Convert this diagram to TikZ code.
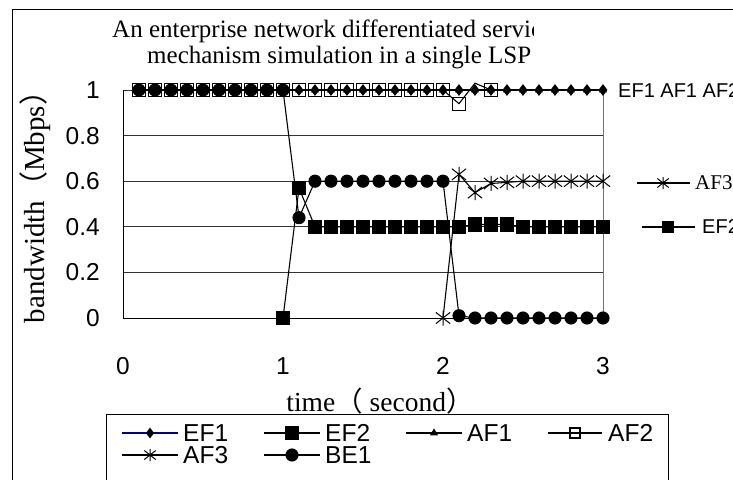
\documentclass[tikz,border=0pt]{standalone}
\usepackage{fontspec}
\setmainfont{Liberation Serif}
\setsansfont{Liberation Sans}
\newfontfamily\cjk{Noto Sans CJK SC}
\usetikzlibrary{plotmarks}

\definecolor{efnavy}{RGB}{0,0,128}
\newcommand{\chartsize}{\fontsize{24.5}{26}\selectfont}

% star with a vertical bar and a cross, used for AF3
\pgfdeclareplotmark{afstar}{%
  \pgfpathmoveto{\pgfqpoint{0pt}{\pgfplotmarksize}}%
  \pgfpathlineto{\pgfqpoint{0pt}{-\pgfplotmarksize}}%
  \pgfpathmoveto{\pgfqpoint{-0.95\pgfplotmarksize}{0.75\pgfplotmarksize}}%
  \pgfpathlineto{\pgfqpoint{0.95\pgfplotmarksize}{-0.75\pgfplotmarksize}}%
  \pgfpathmoveto{\pgfqpoint{-0.95\pgfplotmarksize}{-0.75\pgfplotmarksize}}%
  \pgfpathlineto{\pgfqpoint{0.95\pgfplotmarksize}{0.75\pgfplotmarksize}}%
  \pgfusepathqstroke}

\begin{document}
\begin{tikzpicture}[
    x=1pt, y=-1pt,
    gridline/.style={draw=black!80, line width=0.9pt},
    axisline/.style={draw=black, line width=1pt},
    series/.style={draw=black, line width=1.1pt},
    ticklabel/.style={font=\sffamily\chartsize, inner sep=0pt},
    titletext/.style={font=\rmfamily\fontsize{25}{26}\selectfont, inner sep=0pt},
    legtext/.style={font=\sffamily\chartsize, inner sep=0pt, anchor=west},
    sidetext/.style={font=\sffamily\fontsize{20}{21}\selectfont, inner sep=0pt, anchor=west},
    markEFone/.style={mark=diamond*, mark size=5pt, mark options={fill=black, draw=black}},
    markEFtwo/.style={mark=square*, mark size=6.5pt, mark options={fill=black, draw=black}},
    markAFone/.style={mark=triangle*, mark size=3.5pt, mark options={fill=black}},
    markAFtwo/.style={mark=square, mark size=6.5pt, mark options={line width=1.2pt}},
    markAFthree/.style={mark=afstar, mark size=7.5pt, mark options={line width=1pt}},
    markBEone/.style={mark=*, mark size=6pt, mark options={fill=black}}
]
\useasboundingbox (0,0) rectangle (733,479);

% === CHART FRAME ===
\draw[axisline] (12,490) -- (12,9) -- (745,9);

% === TITLE ===
\begin{scope}
  \clip (0,0) rectangle (533,479);
  \node[titletext, anchor=base west] (titleA) at (112,37) {An enterprise network differentiated servic};
\end{scope}
\node[titletext, anchor=base west] (titleB) at (147,63) {mechanism simulation in a single LSP};

% === PLOT AREA ===
\begin{scope}[shift={(123,318)}, x=160pt, y=228pt]
  \foreach \gy in {0.2,0.4,0.6,0.8,1}
    \draw[gridline] (0,\gy) -- (3,\gy);
  \draw[gridline, draw=black!55] (3,0) -- (3,1);
  \draw[axisline] (0,1) -- (0,0) -- (3,0);

  % tick labels
  \foreach \gy in {0,0.2,0.4,0.6,0.8,1}
    \node[ticklabel, anchor=east, xshift=-23pt] (ytick\gy) at (0,\gy) {\gy};
  \foreach \gx in {0,1,2,3}
    \node[ticklabel, yshift=-48pt] (xtick\gx) at (\gx,0) {\gx};

  % EF1
  \draw[series, draw=efnavy, markEFone] plot[domain=0.1:3, samples=30] (\x,1);
  % EF2
  \draw[series, markEFtwo] plot coordinates {(1,0) (1.1,0.57) (1.2,0.4) (1.3,0.4) (1.4,0.4)
    (1.5,0.4) (1.6,0.4) (1.7,0.4) (1.8,0.4) (1.9,0.4) (2,0.4) (2.1,0.4) (2.2,0.41) (2.3,0.41)
    (2.4,0.41) (2.5,0.4) (2.6,0.4) (2.7,0.4) (2.8,0.4) (2.9,0.4) (3,0.4)};
  % AF1
  \draw[series, markAFone] plot[domain=0.1:3, samples=30] (\x,1);
  % AF2
  \draw[series, markAFtwo, mark indices={1,...,21,23,...,30}] plot coordinates {(0.1,1) (0.2,1)
    (0.3,1) (0.4,1) (0.5,1) (0.6,1) (0.7,1) (0.8,1) (0.9,1) (1,1) (1.1,1) (1.2,1) (1.3,1)
    (1.4,1) (1.5,1) (1.6,1) (1.7,1) (1.8,1) (1.9,1) (2,1) (2.1,0.94) (2.2,1.03) (2.3,1)
    (2.4,1) (2.5,1) (2.6,1) (2.7,1) (2.8,1) (2.9,1) (3,1)};
  % AF3
  \draw[series, markAFthree] plot coordinates {(2,0) (2.1,0.63) (2.2,0.55) (2.3,0.59)
    (2.4,0.595) (2.5,0.6) (2.6,0.6) (2.7,0.6) (2.8,0.6) (2.9,0.6) (3,0.6)};
  % BE1
  \draw[series, markBEone] plot coordinates {(0.1,1) (0.2,1) (0.3,1) (0.4,1) (0.5,1) (0.6,1)
    (0.7,1) (0.8,1) (0.9,1) (1,1) (1.1,0.44) (1.2,0.6) (1.3,0.6) (1.4,0.6) (1.5,0.6) (1.6,0.6)
    (1.7,0.6) (1.8,0.6) (1.9,0.6) (2,0.6) (2.1,0.01) (2.2,0) (2.3,0) (2.4,0) (2.5,0) (2.6,0)
    (2.7,0) (2.8,0) (2.9,0) (3,0)};
\end{scope}

% === AXIS TITLES ===
\node[titletext, font=\rmfamily\fontsize{29}{30}\selectfont, rotate=90] (ytitle) at (35,200) {bandwidth{\cjk （}Mbps{\cjk ）}};
\node[titletext, font=\rmfamily\fontsize{27.5}{28}\selectfont, anchor=base] (xtitle) at (380,411) {time{\cjk （} second{\cjk ）}};

% === SERIES LABELS ON THE RIGHT ===
\node[sidetext] (lblTop) at (618,91) {EF1 AF1 AF2};
\draw[series] (637,183) -- (690,183) plot[markAFthree, mark size=6pt] coordinates {(663,183)};
\node[sidetext, font=\rmfamily\fontsize{21}{22}\selectfont] (lblAFthree) at (695,183) {AF3};
\draw[series] (642,227) -- (695,227) plot[markEFtwo, mark size=5pt] coordinates {(668,227)};
\node[sidetext] (lblEFtwo) at (702,227) {EF2};

% === LEGEND ===
\draw[axisline] (106,414) rectangle (668,500);
\draw[series, draw=efnavy] (122,433) -- (178,433) plot[markEFone, mark size=4.5pt] coordinates {(150,433)};
\node[legtext] (legEFone) at (183,433) {EF1};
\draw[series] (264,433) -- (320,433) plot[markEFtwo, mark size=6pt] coordinates {(292,433)};
\node[legtext] (legEFtwo) at (325,433) {EF2};
\draw[series] (406,433) -- (462,433) plot[markAFone] coordinates {(434,433)};
\node[legtext] (legAFone) at (467,433) {AF1};
\draw[series] (548,433) -- (602,433) plot[markAFtwo, mark size=5pt] coordinates {(575,433)};
\node[legtext] (legAFtwo) at (608,433) {AF2};
\draw[series] (122,455) -- (178,455) plot[markAFthree, mark size=6pt] coordinates {(150,455)};
\node[legtext] (legAFthree) at (183,455) {AF3};
\draw[series] (264,455) -- (320,455) plot[markBEone] coordinates {(292,455)};
\node[legtext] (legBEone) at (325,455) {BE1};

\end{tikzpicture}
\end{document}
